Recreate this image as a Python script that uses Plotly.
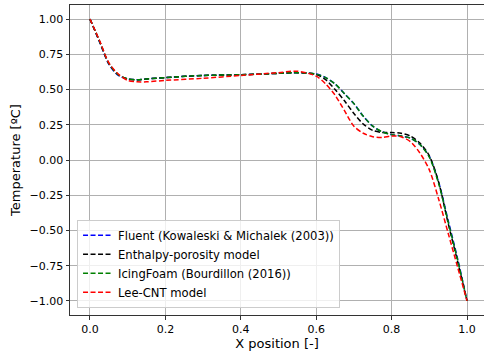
import plotly.graph_objects as go

x_pos = [0, 0.025, 0.05, 0.075, 0.1, 0.125, 0.15, 0.2, 0.3, 0.4, 0.5, 0.55, 0.6,
         0.625, 0.65, 0.675, 0.7, 0.725, 0.75, 0.775, 0.8, 0.825, 0.85, 0.875,
         0.9, 0.925, 0.95, 0.975, 1.0]

fluent = [1.0, 0.84, 0.68, 0.60, 0.575, 0.57, 0.575, 0.585, 0.60, 0.605, 0.615, 0.62, 0.61,
          0.585, 0.54, 0.47, 0.40, 0.31, 0.24, 0.20, 0.18, 0.17, 0.155, 0.11,
          0.025, -0.16, -0.43, -0.70, -1.0]
enthalpy = [1.0, 0.845, 0.685, 0.605, 0.575, 0.57, 0.575, 0.585, 0.60, 0.605, 0.615, 0.62, 0.607,
            0.57, 0.50, 0.42, 0.33, 0.255, 0.21, 0.195, 0.195, 0.19, 0.17, 0.12,
            0.03, -0.16, -0.45, -0.72, -1.0]
icingfoam = [1.0, 0.845, 0.685, 0.605, 0.575, 0.57, 0.575, 0.585, 0.60, 0.605, 0.615, 0.62, 0.61,
             0.585, 0.54, 0.47, 0.40, 0.31, 0.24, 0.20, 0.18, 0.17, 0.155, 0.11,
             0.02, -0.17, -0.44, -0.71, -1.0]
lee_cnt = [1.0, 0.85, 0.69, 0.61, 0.565, 0.555, 0.555, 0.565, 0.58, 0.60, 0.62, 0.63, 0.595,
           0.54, 0.46, 0.35, 0.24, 0.19, 0.165, 0.16, 0.17, 0.165, 0.13, 0.05,
           -0.07, -0.28, -0.52, -0.76, -1.0]

series = [
    ("Fluent (Kowaleski & Michalek (2003))", fluent, "#0000ff"),
    ("Enthalpy-porosity model", enthalpy, "#000000"),
    ("IcingFoam (Bourdillon (2016))", icingfoam, "#008000"),
    ("Lee-CNT model", lee_cnt, "#ff0000"),
]

y_ticks = [1.0, 0.75, 0.5, 0.25, 0.0, -0.25, -0.5, -0.75, -1.0]
y_labels = [f"{v:.2f}".replace("-", "\u2212") for v in y_ticks]
x_ticks = [0.0, 0.2, 0.4, 0.6, 0.8, 1.0]
x_labels = [f"{v:.1f}" for v in x_ticks]

fig = go.Figure()
for name, vals, col in series:
    fig.add_trace(go.Scatter(x=x_pos, y=vals, name=name, mode="lines",
                             line=dict(color=col, width=1.5, dash="5px,2.5px",
                                       shape="spline", smoothing=0.8)))

fig.update_layout(
    width=484, height=356,
    margin=dict(l=70, r=0, t=5, b=41),
    plot_bgcolor="white", paper_bgcolor="white",
    font=dict(family="DejaVu Sans", size=11, color="#000000"),
    showlegend=True,
    legend=dict(x=0.017, y=0.023, xanchor="left", yanchor="bottom",
                bgcolor="rgba(255,255,255,0.8)", bordercolor="#cccccc", borderwidth=1,
                font=dict(size=11.6), tracegroupgap=0, itemwidth=30),
    xaxis=dict(range=[-0.053, 1.045], tickvals=x_ticks, ticktext=x_labels,
               showgrid=True, gridcolor="#b0b0b0", gridwidth=0.8,
               showline=True, linecolor="#333333", linewidth=1, mirror=True,
               ticks="outside", ticklen=3.5, tickcolor="#333333", zeroline=False,
               title=dict(text="X position [-]", standoff=4)),
    yaxis=dict(range=[-1.1, 1.1], tickvals=y_ticks, ticktext=y_labels,
               showgrid=True, gridcolor="#b0b0b0", gridwidth=0.8,
               showline=True, linecolor="#333333", linewidth=1, mirror=False,
               ticks="outside", ticklen=3.5, tickcolor="#333333", zeroline=False,
               title=dict(text="Temperature [ºC]", standoff=6)),
)

fig.write_html("out.html")
